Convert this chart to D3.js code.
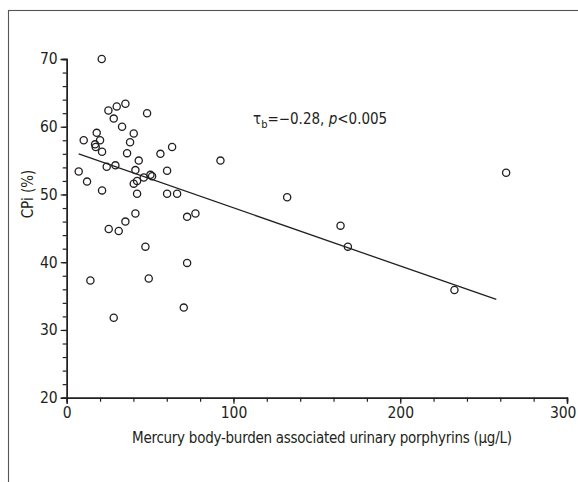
<!DOCTYPE html>
<html>
<head>
<meta charset="utf-8">
<script src="https://cdn.jsdelivr.net/npm/d3@7"></script>
<style>
  html, body { margin: 0; padding: 0; background: #fff; }
  svg { display: block; }
  text { font-family: "DejaVu Sans Condensed", "DejaVu Sans", sans-serif; font-stretch: condensed; fill: #231f20; }
</style>
</head>
<body>
<svg id="chart" width="578" height="482"></svg>
<script>
// Data
const mercury = [21.0, 25.0, 30.0, 35.2, 28.2, 48.2, 33.2, 18.0, 10.2, 20.0,
  40.2, 38.0, 17.0, 17.4, 21.2, 36.2, 63.2, 56.2, 43.2, 92.2,
  7.2, 12.2, 24.0, 29.2, 41.2, 40.2, 42.2, 46.2, 50.2, 51.2,
  60.2, 21.2, 42.2, 60.2, 66.2, 132.2, 41.2, 77.2, 72.2, 25.2,
  31.2, 35.2, 47.2, 14.2, 49.2, 72.2, 70.2, 28.2, 168.6, 232.5,
  164.2, 263.5];
const cpi = [70.0, 62.4, 63.0, 63.4, 61.2, 62.0, 60.0, 59.1, 58.0, 58.0,
  59.0, 57.7, 57.4, 57.0, 56.3, 56.1, 57.0, 56.0, 55.0, 55.0,
  53.4, 51.9, 54.1, 54.3, 53.6, 51.6, 52.0, 52.5, 52.9, 52.7,
  53.5, 50.6, 50.1, 50.1, 50.1, 49.6, 47.2, 47.2, 46.7, 44.9,
  44.6, 46.0, 42.3, 37.3, 37.6, 39.9, 33.3, 31.8, 42.3, 35.9,
  45.4, 53.2];
const fitX = [7.2, 257.6];
const fitY = [56.0, 34.5];
const xTicks = [0, 100, 200, 300];
const yTicks = [20, 30, 40, 50, 60, 70];
const xTitle = "Mercury body-burden associated urinary porphyrins (\u00b5g/L)";
const yTitle = "CPi (%)";

const svg = d3.select("#chart");
const ink = "#231f20";
const fontSize = 15;
const tickFont = 15.5;

// frame (only top and left visible)
svg.append("rect").attr("x", 8.5).attr("y", 10.5).attr("width", 600).attr("height", 600)
  .attr("fill", "none").attr("stroke", "#555").attr("stroke-width", 1.1);

const x = d3.scaleLinear().domain([0, 300]).range([66.7, 567]);
const y = d3.scaleLinear().domain([20, 70]).range([397.7, 59]);

const xAxisMinor = d3.axisBottom(x).tickValues(d3.range(0, 301, 20)).tickSize(4).tickFormat("");
const yAxisMinor = d3.axisLeft(y).tickValues(d3.range(20, 71, 2)).tickSize(4).tickFormat("");
const xAxis = d3.axisBottom(x).tickValues(xTicks).tickSize(6).tickPadding(3).tickFormat(d3.format("d"));
const yAxis = d3.axisLeft(y).tickValues(yTicks).tickSize(6).tickPadding(3).tickFormat(d3.format("d"));

function styleAxis(g) {
  g.selectAll("path").attr("stroke", ink).attr("stroke-width", 1.4);
  g.selectAll("line").attr("stroke", ink).attr("stroke-width", 1.2);
  g.selectAll("text").attr("font-size", tickFont).attr("fill", ink)
    .style("font-family", '"DejaVu Sans Condensed", "DejaVu Sans", sans-serif')
    .style("font-stretch", "condensed");
}

svg.append("g").attr("transform", `translate(0,${y(20)})`).call(xAxisMinor).call(styleAxis);
svg.append("g").attr("transform", `translate(${x(0)},0)`).call(yAxisMinor).call(styleAxis);
const gx = svg.append("g").attr("transform", `translate(0,${y(20)})`).call(xAxis).call(styleAxis);
svg.append("g").attr("transform", `translate(${x(0)},0)`).call(yAxis).call(styleAxis);
// last x label sits a little left, as in the reference
gx.selectAll(".tick text").filter(d => d === 300).attr("text-anchor", "end").attr("dx", 9);

// regression line
svg.append("line")
  .attr("x1", x(fitX[0])).attr("y1", y(fitY[0]))
  .attr("x2", x(fitX[1])).attr("y2", y(fitY[1]))
  .attr("stroke", ink).attr("stroke-width", 1.3);

// points
svg.append("g").selectAll("circle")
  .data(d3.zip(mercury, cpi))
  .join("circle")
  .attr("cx", d => x(d[0])).attr("cy", d => y(d[1]))
  .attr("r", 3.6)
  .attr("fill", "none").attr("stroke", ink).attr("stroke-width", 1.3);

// axis titles
svg.append("text").attr("x", 132).attr("y", 443)
  .attr("textLength", 380).attr("lengthAdjust", "spacing")
  .attr("font-size", fontSize).text(xTitle);
svg.append("text").attr("transform", "translate(33,194) rotate(-90)")
  .attr("text-anchor", "middle").attr("font-size", fontSize).text(yTitle);

// annotation
const ann = svg.append("text").attr("x", 253).attr("y", 124).attr("font-size", fontSize);
ann.append("tspan").text("\u03c4");
ann.append("tspan").attr("font-size", 11).attr("dy", 4).text("b");
ann.append("tspan").attr("dy", -4).text("=\u22120.28, ");
ann.append("tspan").attr("font-style", "italic").text("p");
ann.append("tspan").text("<0.005");
</script>
</body>
</html>
